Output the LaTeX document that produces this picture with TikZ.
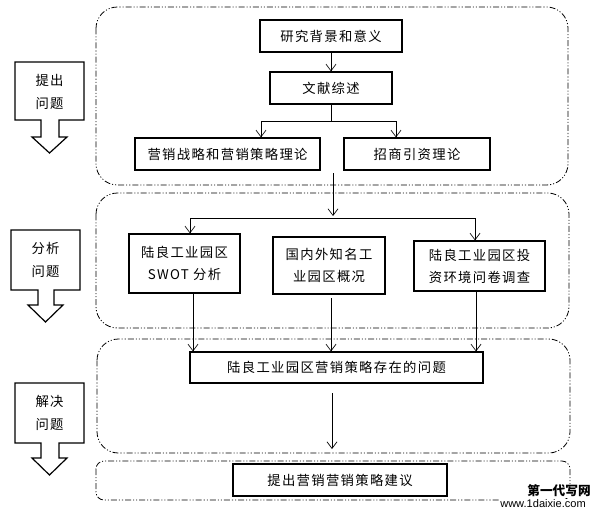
\documentclass[tikz,border=0pt]{standalone}
\usepackage{fontspec}
\setmainfont[LetterSpace=10]{Noto Sans CJK SC}
\newfontfamily\wmfont{Noto Sans CJK SC}
\newfontfamily\latinf{Liberation Sans}
\usetikzlibrary{arrows.meta}
\begin{document}
\begin{tikzpicture}[x=0.75pt,y=-0.75pt,
  box/.style 2 args={draw,line width=0.9pt,inner sep=0pt,align=center,
    font=\fontsize{10}{16.5}\selectfont,minimum width=#1*0.75pt,minimum height=#2*0.75pt},
  grp/.style={draw,line width=0.6pt,dash pattern=on 4.5pt off 1.5pt on 0.8pt off 1.5pt on 0.8pt off 1.5pt},
  conn/.style={line width=0.5pt},
  arr/.style={conn,-{Straight Barb[length=5pt,width=7.5pt]}},
  blk/.style={draw,line width=0.9pt,fill=white,line join=miter},
  lbl/.style={font=\fontsize{10}{17}\selectfont,align=center,inner sep=0pt},
  wm/.style={inner sep=0.5pt,fill=white}]
\useasboundingbox (0,0) rectangle (598,518);

% groups
\draw[grp,rounded corners=16pt] (96,7) rectangle (568,185);
\draw[grp,rounded corners=16pt] (96,193) rectangle (569,328);
\draw[grp,rounded corners=16pt] (97,339) rectangle (570,453);
\draw[grp,rounded corners=6pt] (96,461) rectangle (570,500);

% left block arrows
\draw[blk] (15,62) -- (84,62) -- (84,120) -- (59,120) -- (59,137) -- (67,137) -- (49.5,153) -- (32,137) -- (41,137) -- (41,120) -- (15,120) -- cycle;
\node[lbl] (t1) at (49.5,92) {提出\\问题};
\draw[blk] (11,230) -- (80,230) -- (80,290) -- (54,290) -- (54,305) -- (63,305) -- (45.5,322) -- (28,305) -- (38,305) -- (38,290) -- (11,290) -- cycle;
\node[lbl] (t2) at (45.5,260) {分析\\问题};
\draw[blk] (15,383) -- (84,383) -- (84,443) -- (59,443) -- (59,458) -- (67,458) -- (49.5,475) -- (32,458) -- (41,458) -- (41,443) -- (15,443) -- cycle;
\node[lbl] (t3) at (49.5,413) {解决\\问题};

% boxes
\node[box={142}{32}] (b1) at (331,36) {研究背景和意义};
\node[box={122}{32}] (b2) at (331,88) {文献综述};
\node[box={185}{32}] (b3) at (227.5,154) {营销战略和营销策略理论};
\node[box={146}{32}] (b4) at (417,154) {招商引资理论};
\node[box={111}{59}] (b5) at (184.5,263.5) {陆良工业园区\\SWOT 分析};
\node[box={112}{57}] (b6) at (329,265.5) {国内外知名工\\业园区概况};
\node[box={131}{50}] (b7) at (479.5,266) {陆良工业园区投\\资环境问卷调查};
\node[box={293}{31}] (b8) at (336.5,367.5) {陆良工业园区营销策略存在的问题};
\node[box={214}{32}] (b9) at (340,480) {提出营销营销策略建议};

% connectors group 1
\draw[arr] (b1) -- (b2);
\coordinate (jL) at (261,121);
\coordinate (jR) at (396,121);
\draw[conn] (b2.south) -- (b2.south |- jL);
\draw[conn] (jL) -- (jR);
\draw[arr] (jL) -- (jL |- b3.north);
\draw[arr] (jR) -- (jR |- b4.north);

% group 1 -> group 2
\coordinate (c1) at (333,173);
\coordinate (c2) at (333,216);
\coordinate (hL) at (190,218);
\coordinate (hR) at (475,218);
\draw[arr] (c1) -- (c2);
\draw[conn] (hL) -- (hR);
\draw[arr] (hL) -- (hL |- b5.north);
\draw[arr] (hR) -- (hR |- b7.north);

% group 2 -> problem box
\coordinate (d1) at (193,293);
\coordinate (d2) at (331,298);
\coordinate (d3) at (476,291);
\draw[arr] (d1) -- (d1 |- b8.north);
\draw[arr] (d2) -- (d2 |- b8.north);
\draw[arr] (d3) -- (d3 |- b8.north);

% problem -> suggestion
\coordinate (e1) at (332,393);
\coordinate (e2) at (332,449);
\draw[arr] (e1) -- (e2);

% watermark
\node[wm,font=\wmfont\fontsize{9.5}{10}\selectfont\bfseries] (w1) at (559,491) {第一代写网};
\node[wm,font=\latinf\fontsize{8.3}{9}\selectfont] (w2) at (543,504) {www.1daixie.com};
\end{tikzpicture}
\end{document}
